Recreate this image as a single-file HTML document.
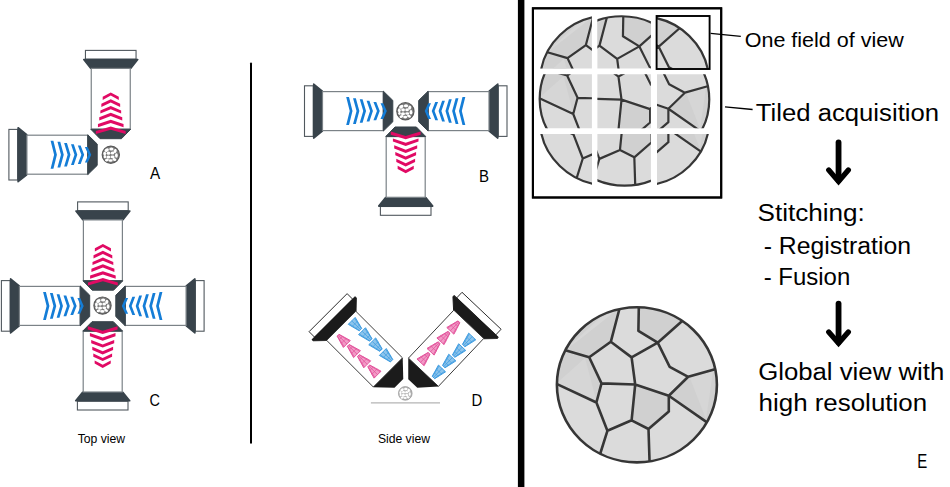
<!DOCTYPE html>
<html><head><meta charset="utf-8"><style>
html,body{margin:0;padding:0;background:#fff;width:950px;height:487px;overflow:hidden}
svg{display:block}
text{font-family:"Liberation Sans",sans-serif}
</style></head><body>
<svg width="950" height="487" viewBox="0 0 950 487">
<defs><g id="objP"><rect x="-25.3" y="0.6" width="50.6" height="8.8" fill="#fff" stroke="#50585e" stroke-width="1.1"/><polygon points="-27,9.8 27,9.8 20.1,18.4 -20.1,18.4" fill="#38434b" stroke="#38434b" stroke-width="1.6" stroke-linejoin="round"/><rect x="-19.5" y="18.6" width="39" height="60.7" fill="#fff" stroke="#7b8287" stroke-width="1.2"/><polygon points="-19.9,79.5 19.9,79.5 10.7,88.9 -10.7,88.9" fill="#38434b" stroke="#38434b" stroke-width="1.0" stroke-linejoin="round"/><g fill="#e10a64"><polygon points="-8.05,47 0,42.6 8.05,47 8.05,50.2 0,45.8 -8.05,50.2"/><polygon points="-9.4,53.9 0,49.5 9.4,53.9 9.4,57.1 0,52.7 -9.4,57.1"/><polygon points="-10.4,60.6 0,56.2 10.4,60.6 10.4,63.8 0,59.4 -10.4,63.8"/><polygon points="-11.5,67.4 0,63 11.5,67.4 11.5,70.6 0,66.2 -11.5,70.6"/><polygon points="-12.8,74.3 0,69.9 12.8,74.3 12.8,77.5 0,73.1 -12.8,77.5"/><polygon points="-14.9,81.1 0,76.7 14.9,81.1 14.9,84.3 0,79.9 -14.9,84.3"/></g></g><g id="objB"><rect x="-25.3" y="0.6" width="50.6" height="8.8" fill="#fff" stroke="#50585e" stroke-width="1.1"/><polygon points="-27,9.8 27,9.8 20.1,18.4 -20.1,18.4" fill="#38434b" stroke="#38434b" stroke-width="1.6" stroke-linejoin="round"/><rect x="-19.5" y="18.6" width="39" height="60.7" fill="#fff" stroke="#7b8287" stroke-width="1.2"/><polygon points="-19.9,79.5 19.9,79.5 10.7,88.9 -10.7,88.9" fill="#38434b" stroke="#38434b" stroke-width="1.0" stroke-linejoin="round"/><g fill="#147dd7"><polygon points="-14,42.3 -14,45.1 0,48.6 14,45.1 14,42.3 0,45.8"/><polygon points="-12.9,49.15 -12.9,51.95 0,55.45 12.9,51.95 12.9,49.15 0,52.65"/><polygon points="-11.75,55.85 -11.75,58.65 0,62.15 11.75,58.65 11.75,55.85 0,59.35"/><polygon points="-10.4,62.7 -10.4,65.5 0,69 10.4,65.5 10.4,62.7 0,66.2"/><polygon points="-9.2,69.55 -9.2,72.35 0,75.85 9.2,72.35 9.2,69.55 0,73.05"/><polygon points="-7.8,76.6 -7.8,79.4 0,82.9 7.8,79.4 7.8,76.6 0,80.1"/></g></g><g id="objD"><rect x="0" y="-26.9" width="7.8" height="53.8" fill="#fff" stroke="#222" stroke-width="0.9"/><polygon points="7.8,-30.3 7.8,30.3 9.6,30.3 18.6,20.9 18.6,-20.9 9.6,-30.3" fill="#1b1b1b" stroke="#1b1b1b" stroke-width="1.0" stroke-linejoin="round"/><rect x="18.6" y="-20.6" width="66" height="41.2" fill="#fff" stroke="#333" stroke-width="0.9"/><polygon points="84.6,-20.9 84.6,20.9 100.1,6.2 100.1,-6.2" fill="#1b1b1b"/><polygon points="22.5,-15.8 34.9,-12.6 34.9,-9.2 22.5,-6" fill="#8cc4ec" stroke="#3d9be0" stroke-width="0.9" stroke-linejoin="round"/><line x1="22.5" y1="-14.82" x2="34.9" y2="-12.26" stroke="#3d9be0" stroke-width="0.7"/><line x1="22.5" y1="-10.9" x2="34.9" y2="-10.9" stroke="#3d9be0" stroke-width="0.7"/><line x1="22.5" y1="-6.98" x2="34.9" y2="-9.54" stroke="#3d9be0" stroke-width="0.7"/><line x1="26.84" y1="-14.9" x2="26.84" y2="-6.9" stroke="#3d9be0" stroke-width="0.6"/><line x1="30.87" y1="-13.7" x2="30.87" y2="-8.1" stroke="#3d9be0" stroke-width="0.6"/><polygon points="37.1,-15.8 49.5,-12.6 49.5,-9.2 37.1,-6" fill="#8cc4ec" stroke="#3d9be0" stroke-width="0.9" stroke-linejoin="round"/><line x1="37.1" y1="-14.82" x2="49.5" y2="-12.26" stroke="#3d9be0" stroke-width="0.7"/><line x1="37.1" y1="-10.9" x2="49.5" y2="-10.9" stroke="#3d9be0" stroke-width="0.7"/><line x1="37.1" y1="-6.98" x2="49.5" y2="-9.54" stroke="#3d9be0" stroke-width="0.7"/><line x1="41.44" y1="-14.9" x2="41.44" y2="-6.9" stroke="#3d9be0" stroke-width="0.6"/><line x1="45.47" y1="-13.7" x2="45.47" y2="-8.1" stroke="#3d9be0" stroke-width="0.6"/><polygon points="51.5,-15.8 63.9,-12.6 63.9,-9.2 51.5,-6" fill="#8cc4ec" stroke="#3d9be0" stroke-width="0.9" stroke-linejoin="round"/><line x1="51.5" y1="-14.82" x2="63.9" y2="-12.26" stroke="#3d9be0" stroke-width="0.7"/><line x1="51.5" y1="-10.9" x2="63.9" y2="-10.9" stroke="#3d9be0" stroke-width="0.7"/><line x1="51.5" y1="-6.98" x2="63.9" y2="-9.54" stroke="#3d9be0" stroke-width="0.7"/><line x1="55.84" y1="-14.9" x2="55.84" y2="-6.9" stroke="#3d9be0" stroke-width="0.6"/><line x1="59.87" y1="-13.7" x2="59.87" y2="-8.1" stroke="#3d9be0" stroke-width="0.6"/><polygon points="66.5,-15.8 78.9,-12.6 78.9,-9.2 66.5,-6" fill="#8cc4ec" stroke="#3d9be0" stroke-width="0.9" stroke-linejoin="round"/><line x1="66.5" y1="-14.82" x2="78.9" y2="-12.26" stroke="#3d9be0" stroke-width="0.7"/><line x1="66.5" y1="-10.9" x2="78.9" y2="-10.9" stroke="#3d9be0" stroke-width="0.7"/><line x1="66.5" y1="-6.98" x2="78.9" y2="-9.54" stroke="#3d9be0" stroke-width="0.7"/><line x1="70.84" y1="-14.9" x2="70.84" y2="-6.9" stroke="#3d9be0" stroke-width="0.6"/><line x1="74.87" y1="-13.7" x2="74.87" y2="-8.1" stroke="#3d9be0" stroke-width="0.6"/><polygon points="23,7.6 35.4,4 35.4,13.8 23,10.2" fill="#f29ac6" stroke="#e2519a" stroke-width="0.9" stroke-linejoin="round"/><line x1="23" y1="7.86" x2="35.4" y2="4.98" stroke="#e2519a" stroke-width="0.7"/><line x1="23" y1="8.9" x2="35.4" y2="8.9" stroke="#e2519a" stroke-width="0.7"/><line x1="23" y1="9.94" x2="35.4" y2="12.82" stroke="#e2519a" stroke-width="0.7"/><line x1="31.06" y1="4.9" x2="31.06" y2="12.9" stroke="#e2519a" stroke-width="0.6"/><line x1="27.03" y1="6.1" x2="27.03" y2="11.7" stroke="#e2519a" stroke-width="0.6"/><polygon points="37.4,7.6 49.8,4 49.8,13.8 37.4,10.2" fill="#f29ac6" stroke="#e2519a" stroke-width="0.9" stroke-linejoin="round"/><line x1="37.4" y1="7.86" x2="49.8" y2="4.98" stroke="#e2519a" stroke-width="0.7"/><line x1="37.4" y1="8.9" x2="49.8" y2="8.9" stroke="#e2519a" stroke-width="0.7"/><line x1="37.4" y1="9.94" x2="49.8" y2="12.82" stroke="#e2519a" stroke-width="0.7"/><line x1="45.46" y1="4.9" x2="45.46" y2="12.9" stroke="#e2519a" stroke-width="0.6"/><line x1="41.43" y1="6.1" x2="41.43" y2="11.7" stroke="#e2519a" stroke-width="0.6"/><polygon points="51.8,7.6 64.2,4 64.2,13.8 51.8,10.2" fill="#f29ac6" stroke="#e2519a" stroke-width="0.9" stroke-linejoin="round"/><line x1="51.8" y1="7.86" x2="64.2" y2="4.98" stroke="#e2519a" stroke-width="0.7"/><line x1="51.8" y1="8.9" x2="64.2" y2="8.9" stroke="#e2519a" stroke-width="0.7"/><line x1="51.8" y1="9.94" x2="64.2" y2="12.82" stroke="#e2519a" stroke-width="0.7"/><line x1="59.86" y1="4.9" x2="59.86" y2="12.9" stroke="#e2519a" stroke-width="0.6"/><line x1="55.83" y1="6.1" x2="55.83" y2="11.7" stroke="#e2519a" stroke-width="0.6"/><polygon points="66.4,7.6 78.8,4 78.8,13.8 66.4,10.2" fill="#f29ac6" stroke="#e2519a" stroke-width="0.9" stroke-linejoin="round"/><line x1="66.4" y1="7.86" x2="78.8" y2="4.98" stroke="#e2519a" stroke-width="0.7"/><line x1="66.4" y1="8.9" x2="78.8" y2="8.9" stroke="#e2519a" stroke-width="0.7"/><line x1="66.4" y1="9.94" x2="78.8" y2="12.82" stroke="#e2519a" stroke-width="0.7"/><line x1="74.46" y1="4.9" x2="74.46" y2="12.9" stroke="#e2519a" stroke-width="0.6"/><line x1="70.43" y1="6.1" x2="70.43" y2="11.7" stroke="#e2519a" stroke-width="0.6"/></g><g id="objD2"><rect x="0" y="-26.9" width="7.8" height="53.8" fill="#fff" stroke="#222" stroke-width="0.9"/><polygon points="7.8,-30.3 7.8,30.3 9.6,30.3 18.6,20.9 18.6,-20.9 9.6,-30.3" fill="#1b1b1b" stroke="#1b1b1b" stroke-width="1.0" stroke-linejoin="round"/><rect x="18.6" y="-20.6" width="66" height="41.2" fill="#fff" stroke="#333" stroke-width="0.9"/><polygon points="84.6,-20.9 84.6,20.9 100.1,6.2 100.1,-6.2" fill="#1b1b1b"/><polygon points="25.1,-15.8 37.5,-12.6 37.5,-9.2 25.1,-6" fill="#8cc4ec" stroke="#3d9be0" stroke-width="0.9" stroke-linejoin="round"/><line x1="25.1" y1="-14.82" x2="37.5" y2="-12.26" stroke="#3d9be0" stroke-width="0.7"/><line x1="25.1" y1="-10.9" x2="37.5" y2="-10.9" stroke="#3d9be0" stroke-width="0.7"/><line x1="25.1" y1="-6.98" x2="37.5" y2="-9.54" stroke="#3d9be0" stroke-width="0.7"/><line x1="29.44" y1="-14.9" x2="29.44" y2="-6.9" stroke="#3d9be0" stroke-width="0.6"/><line x1="33.47" y1="-13.7" x2="33.47" y2="-8.1" stroke="#3d9be0" stroke-width="0.6"/><polygon points="39.7,-15.8 52.1,-12.6 52.1,-9.2 39.7,-6" fill="#8cc4ec" stroke="#3d9be0" stroke-width="0.9" stroke-linejoin="round"/><line x1="39.7" y1="-14.82" x2="52.1" y2="-12.26" stroke="#3d9be0" stroke-width="0.7"/><line x1="39.7" y1="-10.9" x2="52.1" y2="-10.9" stroke="#3d9be0" stroke-width="0.7"/><line x1="39.7" y1="-6.98" x2="52.1" y2="-9.54" stroke="#3d9be0" stroke-width="0.7"/><line x1="44.04" y1="-14.9" x2="44.04" y2="-6.9" stroke="#3d9be0" stroke-width="0.6"/><line x1="48.07" y1="-13.7" x2="48.07" y2="-8.1" stroke="#3d9be0" stroke-width="0.6"/><polygon points="54.1,-15.8 66.5,-12.6 66.5,-9.2 54.1,-6" fill="#8cc4ec" stroke="#3d9be0" stroke-width="0.9" stroke-linejoin="round"/><line x1="54.1" y1="-14.82" x2="66.5" y2="-12.26" stroke="#3d9be0" stroke-width="0.7"/><line x1="54.1" y1="-10.9" x2="66.5" y2="-10.9" stroke="#3d9be0" stroke-width="0.7"/><line x1="54.1" y1="-6.98" x2="66.5" y2="-9.54" stroke="#3d9be0" stroke-width="0.7"/><line x1="58.44" y1="-14.9" x2="58.44" y2="-6.9" stroke="#3d9be0" stroke-width="0.6"/><line x1="62.47" y1="-13.7" x2="62.47" y2="-8.1" stroke="#3d9be0" stroke-width="0.6"/><polygon points="69.1,-15.8 81.5,-12.6 81.5,-9.2 69.1,-6" fill="#8cc4ec" stroke="#3d9be0" stroke-width="0.9" stroke-linejoin="round"/><line x1="69.1" y1="-14.82" x2="81.5" y2="-12.26" stroke="#3d9be0" stroke-width="0.7"/><line x1="69.1" y1="-10.9" x2="81.5" y2="-10.9" stroke="#3d9be0" stroke-width="0.7"/><line x1="69.1" y1="-6.98" x2="81.5" y2="-9.54" stroke="#3d9be0" stroke-width="0.7"/><line x1="73.44" y1="-14.9" x2="73.44" y2="-6.9" stroke="#3d9be0" stroke-width="0.6"/><line x1="77.47" y1="-13.7" x2="77.47" y2="-8.1" stroke="#3d9be0" stroke-width="0.6"/><polygon points="23.6,7.6 36,4 36,13.8 23.6,10.2" fill="#f29ac6" stroke="#e2519a" stroke-width="0.9" stroke-linejoin="round"/><line x1="23.6" y1="7.86" x2="36" y2="4.98" stroke="#e2519a" stroke-width="0.7"/><line x1="23.6" y1="8.9" x2="36" y2="8.9" stroke="#e2519a" stroke-width="0.7"/><line x1="23.6" y1="9.94" x2="36" y2="12.82" stroke="#e2519a" stroke-width="0.7"/><line x1="31.66" y1="4.9" x2="31.66" y2="12.9" stroke="#e2519a" stroke-width="0.6"/><line x1="27.63" y1="6.1" x2="27.63" y2="11.7" stroke="#e2519a" stroke-width="0.6"/><polygon points="38,7.6 50.4,4 50.4,13.8 38,10.2" fill="#f29ac6" stroke="#e2519a" stroke-width="0.9" stroke-linejoin="round"/><line x1="38" y1="7.86" x2="50.4" y2="4.98" stroke="#e2519a" stroke-width="0.7"/><line x1="38" y1="8.9" x2="50.4" y2="8.9" stroke="#e2519a" stroke-width="0.7"/><line x1="38" y1="9.94" x2="50.4" y2="12.82" stroke="#e2519a" stroke-width="0.7"/><line x1="46.06" y1="4.9" x2="46.06" y2="12.9" stroke="#e2519a" stroke-width="0.6"/><line x1="42.03" y1="6.1" x2="42.03" y2="11.7" stroke="#e2519a" stroke-width="0.6"/><polygon points="52.4,7.6 64.8,4 64.8,13.8 52.4,10.2" fill="#f29ac6" stroke="#e2519a" stroke-width="0.9" stroke-linejoin="round"/><line x1="52.4" y1="7.86" x2="64.8" y2="4.98" stroke="#e2519a" stroke-width="0.7"/><line x1="52.4" y1="8.9" x2="64.8" y2="8.9" stroke="#e2519a" stroke-width="0.7"/><line x1="52.4" y1="9.94" x2="64.8" y2="12.82" stroke="#e2519a" stroke-width="0.7"/><line x1="60.46" y1="4.9" x2="60.46" y2="12.9" stroke="#e2519a" stroke-width="0.6"/><line x1="56.43" y1="6.1" x2="56.43" y2="11.7" stroke="#e2519a" stroke-width="0.6"/><polygon points="67,7.6 79.4,4 79.4,13.8 67,10.2" fill="#f29ac6" stroke="#e2519a" stroke-width="0.9" stroke-linejoin="round"/><line x1="67" y1="7.86" x2="79.4" y2="4.98" stroke="#e2519a" stroke-width="0.7"/><line x1="67" y1="8.9" x2="79.4" y2="8.9" stroke="#e2519a" stroke-width="0.7"/><line x1="67" y1="9.94" x2="79.4" y2="12.82" stroke="#e2519a" stroke-width="0.7"/><line x1="75.06" y1="4.9" x2="75.06" y2="12.9" stroke="#e2519a" stroke-width="0.6"/><line x1="71.03" y1="6.1" x2="71.03" y2="11.7" stroke="#e2519a" stroke-width="0.6"/></g></defs>
<use href="#objP" transform="translate(110.75,49.8)"/><use href="#objB" transform="translate(8.3,154.7) rotate(-90)"/><g transform="translate(110.8,154.7)"><circle r="8.6" fill="#7a7a7a" stroke="#5a5a5a" stroke-width="1.2"/><ellipse cx="-4.1" cy="-4.6" rx="2.33" ry="1.65" transform="rotate(-30,-4.1,-4.6)" fill="#fff"/><ellipse cx="0.6" cy="-5.6" rx="2.17" ry="1.5" transform="rotate(0,0.6,-5.6)" fill="#fff"/><ellipse cx="4.3" cy="-3.7" rx="1.55" ry="2.1" transform="rotate(20,4.3,-3.7)" fill="#fff"/><ellipse cx="-6.1" cy="-1.1" rx="1.4" ry="1.95" transform="rotate(0,-6.1,-1.1)" fill="#fff"/><ellipse cx="-2.3" cy="-1.5" rx="1.86" ry="1.65" transform="rotate(0,-2.3,-1.5)" fill="#fff"/><ellipse cx="1.7" cy="-1.6" rx="1.86" ry="1.5" transform="rotate(0,1.7,-1.6)" fill="#fff"/><ellipse cx="5.6" cy="0.9" rx="1.4" ry="2.25" transform="rotate(0,5.6,0.9)" fill="#fff"/><ellipse cx="-5.9" cy="2" rx="1.24" ry="1.65" transform="rotate(0,-5.9,2)" fill="#fff"/><ellipse cx="-2.4" cy="2.4" rx="2.02" ry="1.5" transform="rotate(0,-2.4,2.4)" fill="#fff"/><ellipse cx="1.8" cy="2.2" rx="2.02" ry="1.35" transform="rotate(0,1.8,2.2)" fill="#fff"/><ellipse cx="-3.9" cy="5.2" rx="2.02" ry="1.35" transform="rotate(-20,-3.9,5.2)" fill="#fff"/><ellipse cx="-0.2" cy="5.8" rx="2.02" ry="1.35" transform="rotate(0,-0.2,5.8)" fill="#fff"/><ellipse cx="3.6" cy="4.8" rx="2.02" ry="1.35" transform="rotate(25,3.6,4.8)" fill="#fff"/></g><use href="#objB" transform="translate(303.9,111.1) rotate(-90)"/><use href="#objB" transform="translate(507.6,111.1) rotate(90)"/><use href="#objP" transform="translate(405.7,215.9) rotate(180)"/><g transform="translate(405.4,111.3)"><circle r="8.6" fill="#7a7a7a" stroke="#5a5a5a" stroke-width="1.2"/><ellipse cx="-4.1" cy="-4.6" rx="2.33" ry="1.65" transform="rotate(-30,-4.1,-4.6)" fill="#fff"/><ellipse cx="0.6" cy="-5.6" rx="2.17" ry="1.5" transform="rotate(0,0.6,-5.6)" fill="#fff"/><ellipse cx="4.3" cy="-3.7" rx="1.55" ry="2.1" transform="rotate(20,4.3,-3.7)" fill="#fff"/><ellipse cx="-6.1" cy="-1.1" rx="1.4" ry="1.95" transform="rotate(0,-6.1,-1.1)" fill="#fff"/><ellipse cx="-2.3" cy="-1.5" rx="1.86" ry="1.65" transform="rotate(0,-2.3,-1.5)" fill="#fff"/><ellipse cx="1.7" cy="-1.6" rx="1.86" ry="1.5" transform="rotate(0,1.7,-1.6)" fill="#fff"/><ellipse cx="5.6" cy="0.9" rx="1.4" ry="2.25" transform="rotate(0,5.6,0.9)" fill="#fff"/><ellipse cx="-5.9" cy="2" rx="1.24" ry="1.65" transform="rotate(0,-5.9,2)" fill="#fff"/><ellipse cx="-2.4" cy="2.4" rx="2.02" ry="1.5" transform="rotate(0,-2.4,2.4)" fill="#fff"/><ellipse cx="1.8" cy="2.2" rx="2.02" ry="1.35" transform="rotate(0,1.8,2.2)" fill="#fff"/><ellipse cx="-3.9" cy="5.2" rx="2.02" ry="1.35" transform="rotate(-20,-3.9,5.2)" fill="#fff"/><ellipse cx="-0.2" cy="5.8" rx="2.02" ry="1.35" transform="rotate(0,-0.2,5.8)" fill="#fff"/><ellipse cx="3.6" cy="4.8" rx="2.02" ry="1.35" transform="rotate(25,3.6,4.8)" fill="#fff"/></g><use href="#objP" transform="translate(102.9,201.3)"/><use href="#objP" transform="translate(102.7,410.6) rotate(180)"/><use href="#objB" transform="translate(0.8,305.9) rotate(-90)"/><use href="#objB" transform="translate(204.7,305.9) rotate(90)"/><g transform="translate(102.5,305.6)"><circle r="8.6" fill="#7a7a7a" stroke="#5a5a5a" stroke-width="1.2"/><ellipse cx="-4.1" cy="-4.6" rx="2.33" ry="1.65" transform="rotate(-30,-4.1,-4.6)" fill="#fff"/><ellipse cx="0.6" cy="-5.6" rx="2.17" ry="1.5" transform="rotate(0,0.6,-5.6)" fill="#fff"/><ellipse cx="4.3" cy="-3.7" rx="1.55" ry="2.1" transform="rotate(20,4.3,-3.7)" fill="#fff"/><ellipse cx="-6.1" cy="-1.1" rx="1.4" ry="1.95" transform="rotate(0,-6.1,-1.1)" fill="#fff"/><ellipse cx="-2.3" cy="-1.5" rx="1.86" ry="1.65" transform="rotate(0,-2.3,-1.5)" fill="#fff"/><ellipse cx="1.7" cy="-1.6" rx="1.86" ry="1.5" transform="rotate(0,1.7,-1.6)" fill="#fff"/><ellipse cx="5.6" cy="0.9" rx="1.4" ry="2.25" transform="rotate(0,5.6,0.9)" fill="#fff"/><ellipse cx="-5.9" cy="2" rx="1.24" ry="1.65" transform="rotate(0,-5.9,2)" fill="#fff"/><ellipse cx="-2.4" cy="2.4" rx="2.02" ry="1.5" transform="rotate(0,-2.4,2.4)" fill="#fff"/><ellipse cx="1.8" cy="2.2" rx="2.02" ry="1.35" transform="rotate(0,1.8,2.2)" fill="#fff"/><ellipse cx="-3.9" cy="5.2" rx="2.02" ry="1.35" transform="rotate(-20,-3.9,5.2)" fill="#fff"/><ellipse cx="-0.2" cy="5.8" rx="2.02" ry="1.35" transform="rotate(0,-0.2,5.8)" fill="#fff"/><ellipse cx="3.6" cy="4.8" rx="2.02" ry="1.35" transform="rotate(25,3.6,4.8)" fill="#fff"/></g><use href="#objD" transform="translate(328.1,312.65) rotate(45)"/><use href="#objD2" transform="translate(0.8,0) rotate(-1.6,413,383) rotate(90,405.4,390) translate(328.1,312.65) rotate(45)"/><line x1="370.9" y1="402.9" x2="440" y2="402.9" stroke="#b4b4b4" stroke-width="1.4"/><g transform="translate(405.3,393.4)"><circle r="6.8" fill="#b5b5b5" stroke="#9a9a9a" stroke-width="0.8"/><ellipse cx="-3.24" cy="-3.64" rx="1.84" ry="1.3" transform="rotate(-30,-3.24,-3.64)" fill="#fff"/><ellipse cx="0.47" cy="-4.43" rx="1.72" ry="1.19" transform="rotate(0,0.47,-4.43)" fill="#fff"/><ellipse cx="3.4" cy="-2.93" rx="1.23" ry="1.66" transform="rotate(20,3.4,-2.93)" fill="#fff"/><ellipse cx="-4.82" cy="-0.87" rx="1.1" ry="1.54" transform="rotate(0,-4.82,-0.87)" fill="#fff"/><ellipse cx="-1.82" cy="-1.19" rx="1.47" ry="1.3" transform="rotate(0,-1.82,-1.19)" fill="#fff"/><ellipse cx="1.34" cy="-1.27" rx="1.47" ry="1.19" transform="rotate(0,1.34,-1.27)" fill="#fff"/><ellipse cx="4.43" cy="0.71" rx="1.1" ry="1.78" transform="rotate(0,4.43,0.71)" fill="#fff"/><ellipse cx="-4.67" cy="1.58" rx="0.98" ry="1.3" transform="rotate(0,-4.67,1.58)" fill="#fff"/><ellipse cx="-1.9" cy="1.9" rx="1.59" ry="1.19" transform="rotate(0,-1.9,1.9)" fill="#fff"/><ellipse cx="1.42" cy="1.74" rx="1.59" ry="1.07" transform="rotate(0,1.42,1.74)" fill="#fff"/><ellipse cx="-3.08" cy="4.11" rx="1.59" ry="1.07" transform="rotate(-20,-3.08,4.11)" fill="#fff"/><ellipse cx="-0.16" cy="4.59" rx="1.59" ry="1.07" transform="rotate(0,-0.16,4.59)" fill="#fff"/><ellipse cx="2.85" cy="3.8" rx="1.59" ry="1.07" transform="rotate(25,2.85,3.8)" fill="#fff"/></g><line x1="251" y1="63.4" x2="251" y2="442.7" stroke="#000" stroke-width="2" stroke-linecap="round"/><rect x="517.9" y="0" width="6.5" height="487" fill="#000"/><text x="150" y="178.7" font-size="16.5" font-family="Liberation Sans, sans-serif" fill="#000" textLength="10.21" lengthAdjust="spacingAndGlyphs">A</text><text x="478.94" y="182.3" font-size="16.5" font-family="Liberation Sans, sans-serif" fill="#000" textLength="10.01" lengthAdjust="spacingAndGlyphs">B</text><text x="149.52" y="405.9" font-size="16.5" font-family="Liberation Sans, sans-serif" fill="#000" textLength="10.43" lengthAdjust="spacingAndGlyphs">C</text><text x="471.57" y="405.7" font-size="16.5" font-family="Liberation Sans, sans-serif" fill="#000" textLength="10.8" lengthAdjust="spacingAndGlyphs">D</text><text x="77.63" y="442.6" font-size="12.3" font-family="Liberation Sans, sans-serif" fill="#000" textLength="47.42" lengthAdjust="spacingAndGlyphs">Top view</text><text x="377.89" y="442.6" font-size="12.3" font-family="Liberation Sans, sans-serif" fill="#000" textLength="52.11" lengthAdjust="spacingAndGlyphs">Side view</text><text x="744.68" y="46.5" font-size="21" font-family="Liberation Sans, sans-serif" fill="#000" textLength="159.11" lengthAdjust="spacingAndGlyphs">One field of view</text><text x="755.84" y="121" font-size="23.5" font-family="Liberation Sans, sans-serif" fill="#000" textLength="183.22" lengthAdjust="spacingAndGlyphs">Tiled acquisition</text><text x="757.52" y="221.3" font-size="23.5" font-family="Liberation Sans, sans-serif" fill="#000" textLength="107.33" lengthAdjust="spacingAndGlyphs">Stitching:</text><text x="763.68" y="253.7" font-size="23.5" font-family="Liberation Sans, sans-serif" fill="#000" textLength="147.38" lengthAdjust="spacingAndGlyphs">- Registration</text><text x="763.68" y="285.3" font-size="23.5" font-family="Liberation Sans, sans-serif" fill="#000" textLength="86.54" lengthAdjust="spacingAndGlyphs">- Fusion</text><text x="758.15" y="379.8" font-size="23.5" font-family="Liberation Sans, sans-serif" fill="#000" textLength="186.07" lengthAdjust="spacingAndGlyphs">Global view with</text><text x="758.57" y="411.4" font-size="23.5" font-family="Liberation Sans, sans-serif" fill="#000" textLength="168.49" lengthAdjust="spacingAndGlyphs">high resolution</text><text x="917.36" y="468.2" font-size="20" font-family="Liberation Sans, sans-serif" fill="#000" textLength="10.01" lengthAdjust="spacingAndGlyphs">E</text>
<rect x="532.9" y="8.3" width="188.3" height="189.2" fill="none" stroke="#000" stroke-width="2"/>
<defs><clipPath id="bc"><ellipse cx="636.9" cy="384.8" rx="80" ry="77.55"/></clipPath><g id="cell"><ellipse cx="636.9" cy="384.8" rx="80" ry="77.55" fill="#dbdbdb"/><g clip-path="url(#bc)"><polygon points="619.8,307.5 610.8,341.8 589.2,357.2 564.5,350 575,322 597,310" fill="#d0d0d0"/><polygon points="638.8,307.5 638.4,330.8 657.7,342.7 682.2,321 662,312" fill="#d0d0d0"/><polygon points="564.5,350 589.2,357.2 601.5,383.4 596.4,402.5 556,383.6 557,365" fill="#d0d0d0"/><polygon points="635.2,384.5 668.8,395.7 668.8,411.4 648.5,429 631.6,420.3" fill="#d0d0d0"/><polygon points="688.2,376.8 715,369.3 716,395 706.3,421.9 668.8,395.7" fill="#d0d0d0"/><polygon points="566,349 600,318 618,309 579,340" fill="#d7d7d7"/><polygon points="557,383 585,358 596,400" fill="#d6d6d6"/><polygon points="690,378 713,371 706,419" fill="#d6d6d6"/><path d="M619.8,307.5L610.8,341.8M610.8,341.8L589.2,357.2M589.2,357.2L564.5,350M610.8,341.8L631.6,357.4M631.6,357.4L657.7,342.7M638.8,307.5L638.4,330.8M638.4,330.8L657.7,342.7M657.7,342.7L682.2,321M657.7,342.7L669.7,366.8M669.7,366.8L688.2,376.8M688.2,376.8L715,369.3M688.2,376.8L668.8,395.7M589.2,357.2L601.5,383.4M601.5,383.4L635.2,384.5M631.6,357.4L635.2,384.5M635.2,384.5L668.8,395.7M668.8,395.7L706.3,421.9M668.8,395.7L668.8,411.4M668.8,411.4L648.5,429M648.5,429L649.6,463M648.5,429L631.6,420.3M635.2,384.5L631.6,420.3M631.6,420.3L607.4,430.8M607.4,430.8L596.4,402.5M607.4,430.8L599.8,455M596.4,402.5L601.5,383.4M596.4,402.5L556,383.6" fill="none" stroke="#363636" stroke-width="2.6" stroke-linecap="round" stroke-linejoin="round"/></g><ellipse cx="636.9" cy="384.8" rx="80" ry="77.55" fill="none" stroke="#363636" stroke-width="2.6"/></g><clipPath id="t00"><rect x="532" y="9" width="59.9" height="59.5"/></clipPath><clipPath id="t01"><rect x="597.4" y="9" width="53.5" height="59.5"/></clipPath><clipPath id="t02"><rect x="657" y="9" width="59" height="59.5"/></clipPath><clipPath id="t10"><rect x="532" y="74.3" width="59.9" height="53.9"/></clipPath><clipPath id="t11"><rect x="597.4" y="74.3" width="53.5" height="53.9"/></clipPath><clipPath id="t12"><rect x="657" y="74.3" width="59" height="53.9"/></clipPath><clipPath id="t20"><rect x="532" y="134.1" width="59.9" height="61.9"/></clipPath><clipPath id="t21"><rect x="597.4" y="134.1" width="53.5" height="61.9"/></clipPath><clipPath id="t22"><rect x="657" y="134.1" width="59" height="61.9"/></clipPath></defs><g clip-path="url(#t00)"><use href="#cell" transform="translate(66.7,-245.5) scale(0.85)"/></g><g clip-path="url(#t01)"><use href="#cell" transform="translate(80.3,-244.9) scale(0.85)"/></g><g clip-path="url(#t02)"><use href="#cell" transform="translate(99.7,-244.6) scale(0.85)"/></g><g clip-path="url(#t10)"><use href="#cell" transform="translate(66.3,-228.1) scale(0.85)"/></g><g clip-path="url(#t11)"><use href="#cell" transform="translate(81.6,-227.2) scale(0.85)"/></g><g clip-path="url(#t12)"><use href="#cell" transform="translate(99.9,-227.6) scale(0.85)"/></g><g clip-path="url(#t20)"><use href="#cell" transform="translate(66.5,-207.7) scale(0.85)"/></g><g clip-path="url(#t21)"><use href="#cell" transform="translate(83.1,-207.3) scale(0.85)"/></g><g clip-path="url(#t22)"><use href="#cell" transform="translate(99.9,-207.5) scale(0.85)"/></g><use href="#cell"/><rect x="532.9" y="8.3" width="188.3" height="189.2" fill="none" stroke="#000" stroke-width="2"/><rect x="656.6" y="16" width="53" height="53" fill="none" stroke="#000" stroke-width="1.9"/><polyline points="710.6,33.4 740.8,36.3" fill="none" stroke="#000" stroke-width="1.3"/><polyline points="725,106.8 752.6,109.5" fill="none" stroke="#000" stroke-width="1.3"/><line x1="838.55" y1="142.5" x2="838.55" y2="180.4" stroke="#000" stroke-width="5.8" stroke-linecap="round"/><polyline points="828.75,170.1 838.55,181.4 848.35,170.1" fill="none" stroke="#000" stroke-width="5.3" stroke-linejoin="miter" stroke-linecap="round"/><line x1="838.55" y1="303.6" x2="838.55" y2="342.3" stroke="#000" stroke-width="5.8" stroke-linecap="round"/><polyline points="828.75,332 838.55,343.3 848.35,332" fill="none" stroke="#000" stroke-width="5.3" stroke-linejoin="miter" stroke-linecap="round"/>
</svg>
</body></html>
